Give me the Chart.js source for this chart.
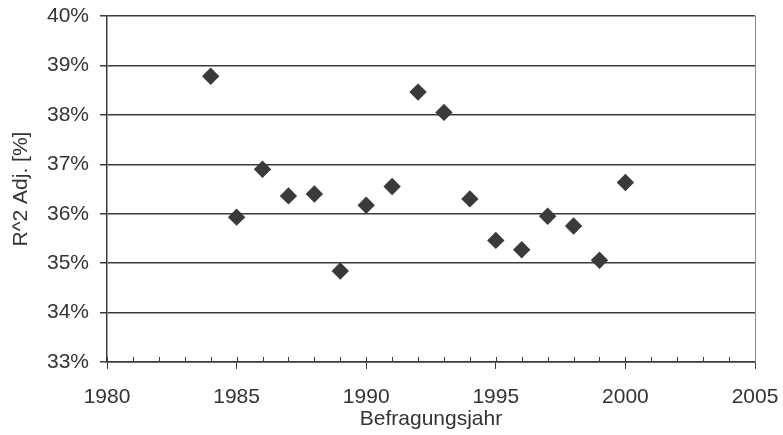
<!DOCTYPE html>
<html>
<head>
<meta charset="utf-8">
<script src="https://cdn.jsdelivr.net/npm/chart.js@4/dist/chart.umd.min.js"></script>
<style>
  body { margin: 0; background: #fff; }
</style>
</head>
<body>
<canvas id="chart" width="783" height="435"></canvas>
<script>
    const years = [1984, 1985, 1986, 1987, 1988, 1989, 1990, 1991, 1992, 1993, 1994, 1995, 1996, 1997, 1998, 1999, 2000];
    const r2Adj = [38.78, 35.93, 36.90, 36.36, 36.40, 34.84, 36.17, 36.55, 38.46, 38.05, 36.30, 35.46, 35.27, 35.95, 35.75, 35.06, 36.63];
    const xRange = [1980, 2005];
    const yRange = [33, 40];

    const inkColor = '#3a3a3a';
    const textColor = '#333';
    const fontFamily = '"Liberation Sans", Arial, sans-serif';

    // small inward year ticks + right frame line, like the old spreadsheet chart
    const frameTicks = {
        id: 'frameTicks',
        afterDraw(chart) {
            const ctx = chart.ctx;
            const x = chart.scales.x;
            const area = chart.chartArea;
            ctx.save();
            ctx.strokeStyle = inkColor;
            ctx.lineWidth = 1;
            for (let yr = xRange[0]; yr <= xRange[1]; yr++) {
                const px = Math.round(x.getPixelForValue(yr)) + 0.5;
                ctx.beginPath();
                ctx.moveTo(px, area.bottom);
                ctx.lineTo(px, area.bottom - 5);
                ctx.stroke();
            }
            ctx.strokeStyle = '#8a8a8a';
            ctx.beginPath();
            ctx.moveTo(area.right + 0.5, area.top);
            ctx.lineTo(area.right + 0.5, area.bottom);
            ctx.stroke();
            ctx.restore();
        }
    };

    const points = years.map((yr, i) => ({ x: yr, y: r2Adj[i] }));

    new Chart(document.getElementById('chart').getContext('2d'), {
        type: 'scatter',
        data: {
            datasets: [{
                data: points,
                pointStyle: 'rectRot',
                pointRadius: 8.7,
                pointHoverRadius: 8.7,
                backgroundColor: inkColor,
                borderColor: inkColor,
                borderWidth: 0
            }]
        },
        options: {
            responsive: false,
            devicePixelRatio: 1,
            animation: false,
            layout: { padding: { left: 0, right: 28, top: 16, bottom: 0 } },
            plugins: {
                legend: { display: false },
                tooltip: { enabled: false }
            },
            scales: {
                x: {
                    type: 'linear',
                    min: xRange[0],
                    max: xRange[1],
                    afterFit: (scale) => {
                        scale.height = 73;
                        scale.paddingLeft = 0;
                        scale.paddingRight = 0;
                    },
                    ticks: {
                        stepSize: 5,
                        padding: 16,
                        color: textColor,
                        font: { family: fontFamily, size: 21 },
                        maxRotation: 0,
                        callback: (v) => String(v)
                    },
                    grid: {
                        drawOnChartArea: false,
                        tickLength: 7,
                        color: inkColor,
                        lineWidth: 1
                    },
                    border: { color: inkColor, width: 1.5 },
                    title: {
                        display: true,
                        text: 'Befragungsjahr',
                        color: textColor,
                        font: { family: fontFamily, size: 21 },
                        padding: { top: 0, bottom: 3 }
                    }
                },
                y: {
                    min: yRange[0],
                    max: yRange[1],
                    afterFit: (scale) => {
                        scale.width = 107;
                        scale.paddingTop = 0;
                        scale.paddingBottom = 0;
                    },
                    ticks: {
                        stepSize: 1,
                        padding: 11,
                        color: textColor,
                        font: { family: fontFamily, size: 21 },
                        callback: (v) => v + '%'
                    },
                    grid: {
                        color: inkColor,
                        lineWidth: 1.5,
                        tickLength: 7
                    },
                    border: { color: inkColor, width: 1.5 },
                    title: {
                        display: true,
                        text: 'R^2 Adj. [%]',
                        color: textColor,
                        font: { family: fontFamily, size: 21 },
                        padding: { top: 9, bottom: 0 }
                    }
                }
            }
        },
        plugins: [frameTicks]
    });
</script>
</body>
</html>
